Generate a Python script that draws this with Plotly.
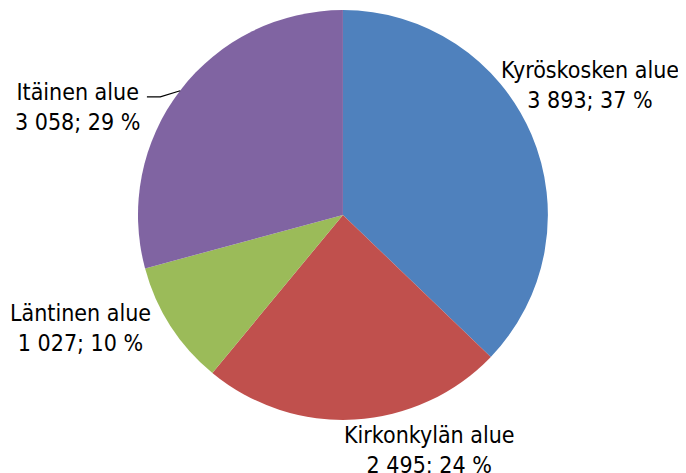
import plotly.graph_objects as go

areas = ["Kyröskosken alue", "Kirkonkylän alue", "Läntinen alue", "Itäinen alue"]
counts = [3893, 2495, 1027, 3058]
colors = ["#4F81BD", "#C0504D", "#9BBB59", "#8064A2"]

# label centres in paper coords (x, y) for each slice
label_pos = [(0.848, 0.837), (0.615, 0.066), (0.105, 0.3235), (0.1006, 0.791)]

FONT = "DejaVu Sans Condensed, Liberation Sans, sans-serif"

total = sum(counts)


def fi_num(n):
    return f"{n:,}".replace(",", " ")


fig = go.Figure(go.Pie(
    labels=areas,
    values=counts,
    sort=False,
    direction="clockwise",
    rotation=0,
    marker=dict(colors=colors, line=dict(width=0)),
    textinfo="none",
    hoverinfo="label+value+percent",
    domain=dict(x=[0.1895, 0.787], y=[0.129, 0.9958]),
    showlegend=False,
))

for name, n, (x, y) in zip(areas, counts, label_pos):
    pct = round(n / total * 100)
    fig.add_annotation(
        x=x, y=y, xref="paper", yref="paper",
        xanchor="center", yanchor="middle",
        text=f"{name}<br>{fi_num(n)}; {pct} %",
        showarrow=False, align="center",
        font=dict(family=FONT, size=23, color="black"),
    )

# leader line for the Itäinen label
fig.add_shape(type="path", xref="paper", yref="paper",
              path="M 0.2025,0.812 L 0.222,0.812 L 0.251,0.825",
              line=dict(color="black", width=1.2))

fig.update_layout(
    width=686, height=473,
    margin=dict(l=0, r=0, t=0, b=0),
    paper_bgcolor="white",
    plot_bgcolor="white",
)

fig.write_html("out.html")
